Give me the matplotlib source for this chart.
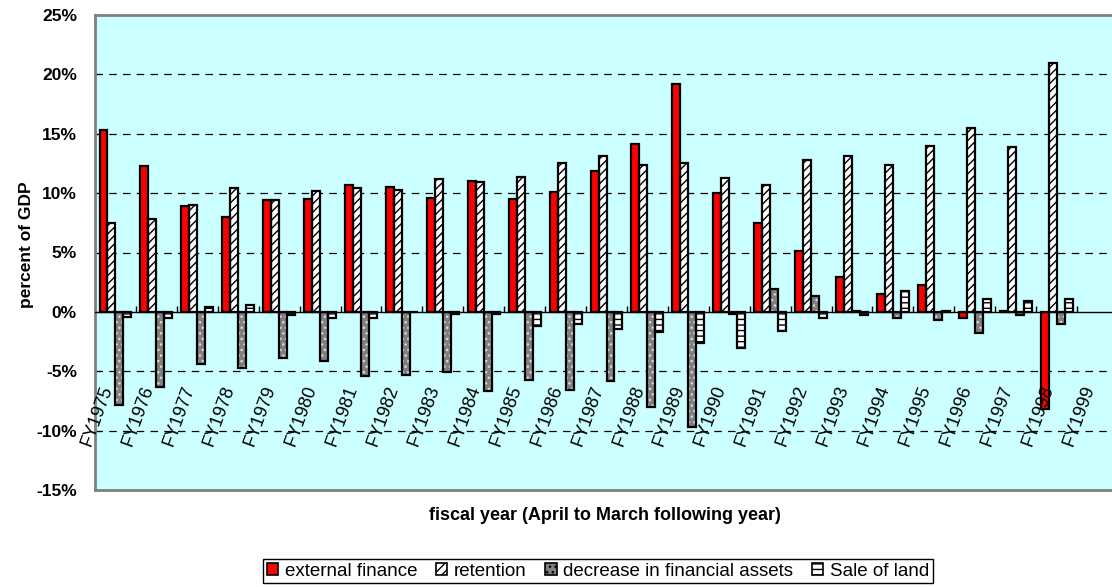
import numpy as np
import matplotlib
matplotlib.use("Agg")
import matplotlib.pyplot as plt
from matplotlib.patches import Patch
from matplotlib.ticker import FuncFormatter

plt.rcParams['font.family'] = ['Liberation Sans', 'DejaVu Sans']
plt.rcParams['hatch.linewidth'] = 1.0

years = ['FY1975', 'FY1976', 'FY1977', 'FY1978', 'FY1979', 'FY1980', 'FY1981',
         'FY1982', 'FY1983', 'FY1984', 'FY1985', 'FY1986', 'FY1987', 'FY1988',
         'FY1989', 'FY1990', 'FY1991', 'FY1992', 'FY1993', 'FY1994', 'FY1995',
         'FY1996', 'FY1997', 'FY1998', 'FY1999']

nan = np.nan
external = [15.3, 12.3, 8.9, 8.0, 9.4, 9.5, 10.7, 10.5, 9.6, 11.0, 9.5, 10.1, 11.9,
            14.1, 19.2, 10.0, 7.5, 5.1, 2.9, 1.5, 2.3, -0.5, 0.05, -8.2, nan]
retention = [7.5, 7.8, 9.0, 10.4, 9.4, 10.2, 10.4, 10.3, 11.2, 10.9, 11.4, 12.5, 13.1,
             12.4, 12.5, 11.3, 10.7, 12.8, 13.1, 12.4, 14.0, 15.5, 13.9, 21.0, nan]
decrease = [-7.8, -6.3, -4.4, -4.7, -3.9, -4.1, -5.4, -5.3, -5.1, -6.7, -5.7, -6.6, -5.8,
            -8.0, -9.7, -0.2, 1.9, 1.3, 0.05, -0.5, -0.7, -1.8, -0.3, -1.0, nan]
land = [-0.4, -0.5, 0.4, 0.6, -0.3, -0.5, -0.5, -0.05, -0.15, -0.15, -1.2, -1.0, -1.4,
        -1.7, -2.6, -3.0, -1.6, -0.5, -0.25, 1.8, 0.05, 1.1, 0.9, 1.1, nan]

series = [
    # name, values, face, hatch, hatch colour
    ('external finance', external, '#ff0000', None, 'black'),
    ('retention', retention, 'white', '////', 'black'),
    ('decrease in financial assets', decrease, '#808080', '...', '#d8d8d8'),
    ('Sale of land', land, 'white', '---', 'black'),
]

fig = plt.figure(figsize=(11.12, 5.87), dpi=100)
ax = fig.add_axes([95/1112, 97/587, 1023/1112, 475/587])
ax.set_facecolor('#ccffff')

x = np.arange(len(years))
w = 0.195
handles = []
for k, (name, vals, face, hatch, hc) in enumerate(series):
    pos = x + (k - 1.5) * w
    vals = np.array(vals, dtype=float)
    # fill + hatch first, then black outline on top
    ax.bar(pos, vals, w, color=face, hatch=hatch, edgecolor=hc, linewidth=0, zorder=3)
    ax.bar(pos, vals, w, fill=False, edgecolor='black', linewidth=1.6, zorder=4)
    handles.append(Patch(facecolor=face, hatch=hatch, edgecolor='black', linewidth=1.2, label=name))

ax.set_xlim(-0.5, len(years) - 0.5)
ax.set_ylim(-15, 25)
ax.set_yticks(np.arange(-15, 26, 5))
ax.yaxis.set_major_formatter(FuncFormatter(lambda v, p: f"{v:.0f}%"))
for yv in [-10, -5, 5, 10, 15, 20]:
    ax.axhline(yv, color='black', linestyle=(0, (6, 5)), linewidth=0.9, zorder=1)
ax.axhline(0, color='black', linewidth=1.0, zorder=5)
ax.vlines(x[:-1] + 0.5, 0, 0.5, color='black', linewidth=1.0, zorder=5)

ax.set_xticks([])
ax.tick_params(axis='y', direction='in', length=4, labelsize=12.5, pad=13)
for lab in ax.get_yticklabels():
    lab.set_fontweight('bold')
for sp in ax.spines.values():
    sp.set_color('#808080')
    sp.set_linewidth(2)
ax.spines['right'].set_visible(False)

for xi, name in zip(x, years):
    ax.text(xi, -6.0, name, rotation=70, ha='right', va='top', fontsize=13, zorder=6)

fig.text(27/1112, 1 - 245/587, 'percent of GDP', rotation=90, ha='center', va='center',
         fontsize=12.5, fontweight='bold')
fig.text(605/1112, 1 - 516/587, 'fiscal year (April to March following year)',
         ha='center', va='center', fontsize=13, fontweight='bold')

fig.legend(handles=handles, loc='center', bbox_to_anchor=(598/1112, 1 - 571/587), ncol=4,
           frameon=True, fancybox=False, edgecolor='black', framealpha=1,
           fontsize=13.5, handlelength=0.6, handleheight=0.6, handletextpad=0.35,
           columnspacing=1.0, borderpad=0.2, borderaxespad=0)

fig.savefig('out.png', dpi=100)
